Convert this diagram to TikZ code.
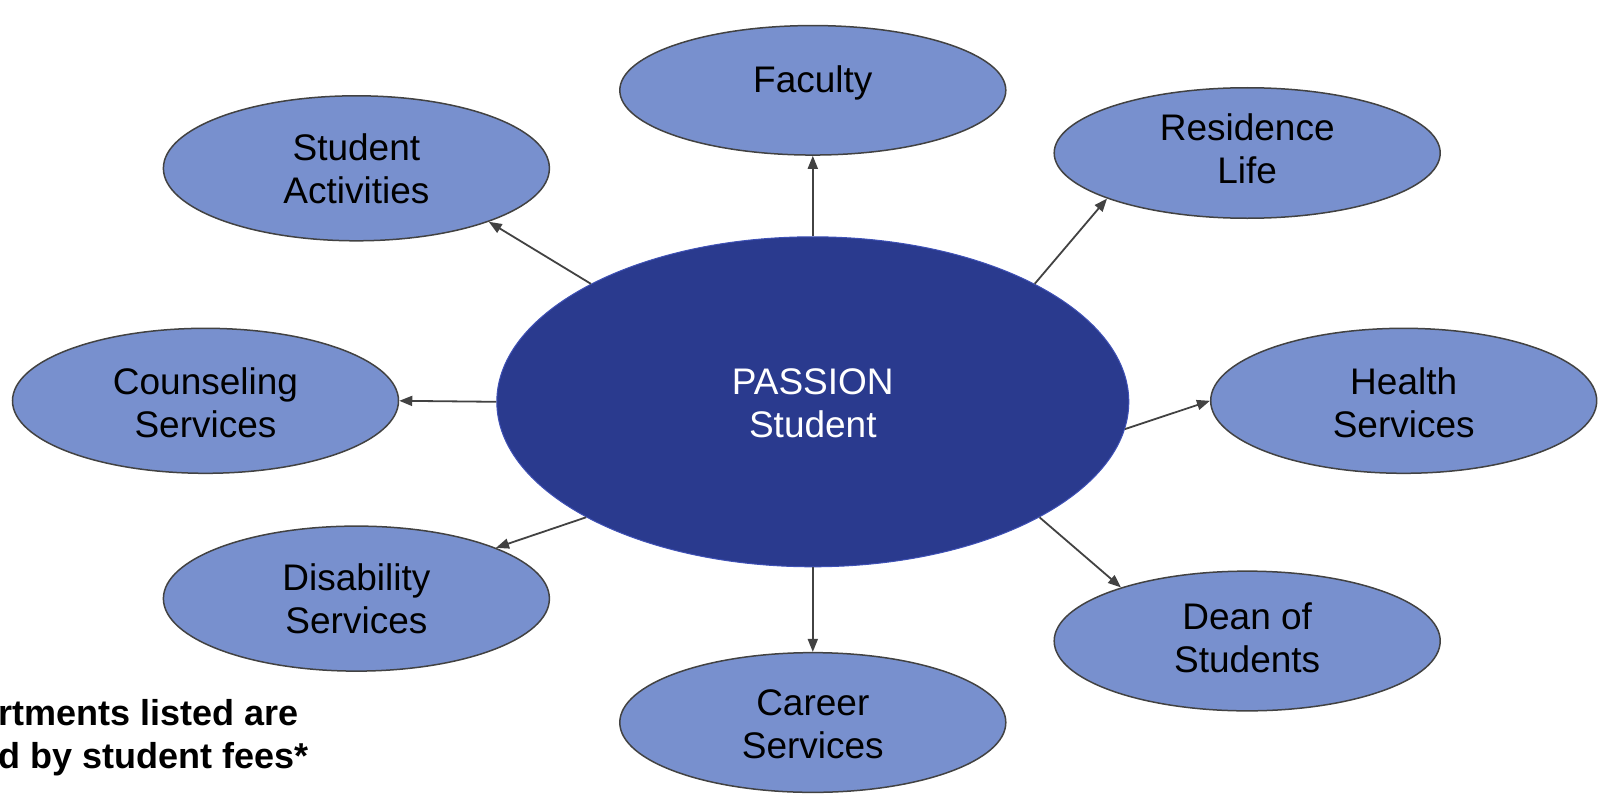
\documentclass[tikz,border=0pt]{standalone}
\usepackage{fontspec}
\setmainfont{Liberation Sans}
\usetikzlibrary{arrows.meta,shapes.geometric}
\definecolor{hubfill}{HTML}{2A3A8E}
\definecolor{hubedge}{HTML}{3F51B5}
\definecolor{deptfill}{HTML}{7890CE}
\definecolor{ink}{HTML}{424242}

\begin{document}
\begin{tikzpicture}[x=1bp,y=-1bp,
  deptnode/.style={ellipse, draw=ink, line width=1.5bp, fill=deptfill,
    inner sep=0pt, minimum width=386bp, minimum height=#1},
  deptnode/.default=145bp,
  caption/.style={align=center, inner sep=0pt,
    font=\fontsize{37bp}{43bp}\selectfont},
  hubnode/.style={ellipse, draw=hubedge, line width=1bp, fill=hubfill,
    inner sep=0pt, minimum width=632bp, minimum height=330bp},
  link/.style={draw=ink, line width=1.8bp, -{Triangle[length=13bp,width=10bp]}},
  note/.style={anchor=base west, inner sep=0pt, font=\bfseries\fontsize{36bp}{43bp}\selectfont}
]
\useasboundingbox (0,0) rectangle (1599,796);

% central student node
\node[hubnode, label={[caption, text=white, yshift=-1.5bp]center:PASSION\\Student}]
  (hub) at (812.8,401.8) {};

% surrounding departments
\node[deptnode=129.5bp, label={[caption, yshift=7bp]center:Faculty}]
  (fac) at (812.8,90.3) {};
\node[deptnode, label={[caption]center:Student\\Activities}]
  (act) at (356.4,168.3) {};
\node[deptnode=130.5bp, label={[caption, yshift=4bp]center:Residence\\Life}]
  (res) at (1247.2,153.0) {};
\node[deptnode, label={[caption, yshift=-2bp]center:Counseling\\Services}]
  (cou) at (205.5,400.8) {};
\node[deptnode, label={[caption, yshift=-2bp]center:Health\\Services}]
  (hea) at (1403.7,400.8) {};
\node[deptnode, label={[caption]center:Disability\\Services}]
  (dis) at (356.4,598.6) {};
\node[deptnode=139.7bp, label={[caption, yshift=3bp]center:Dean of\\Students}]
  (dea) at (1247.2,641.0) {};
\node[deptnode=139.7bp, label={[caption, yshift=-2bp]center:Career\\Services}]
  (car) at (812.8,722.5) {};

% connectors from the student outwards
\draw[link] (hub.north) -- (fac.south);
\draw[link] (hub.152.4) -- (act.-22);
\draw[link] (hub.28.7) -- (res.198.4);
\draw[link] (hub.west) -- (cou.east);
\draw[link] (hub.-5) -- (hea.west);
\draw[link] (hub.207.4) -- (dis.20.3);
\draw[link] (hub.-27.5) -- (dea.157.8);
\draw[link] (hub.south) -- (car.north);

% footnote
\node[note] (n1) at (-2,725) {rtments listed are};
\node[note] (n2) at (-1.5,768) {d by student fees*};
\end{tikzpicture}
\end{document}
